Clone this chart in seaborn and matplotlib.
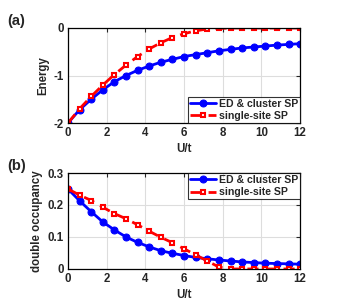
import numpy as np
import pandas as pd
import matplotlib
matplotlib.use("Agg")
import matplotlib.pyplot as plt
import seaborn as sns

# U/t grid
u_vals = [0, 0.6, 1.2, 1.8, 2.4, 3.0, 3.6, 4.2, 4.8, 5.4, 6.0,
          6.6, 7.2, 7.8, 8.4, 9.0, 9.6, 10.2, 10.8, 11.4, 12.0]

# ground-state energy
energy_ed = [-2.0, -1.72, -1.50, -1.30, -1.13, -1.00, -0.89, -0.80, -0.72, -0.66, -0.60,
             -0.56, -0.52, -0.48, -0.45, -0.42, -0.40, -0.38, -0.36, -0.345, -0.33]
energy_ss = [-2.0, -1.70, -1.44, -1.20, -0.98, -0.78, -0.60, -0.44, -0.31, -0.20, -0.12,
             -0.06, -0.02, -0.01, 0.0, 0.0, 0.0, 0.0, 0.0, 0.0, 0.0]

# double occupancy
docc_ed = [0.25, 0.213, 0.179, 0.147, 0.122, 0.100, 0.083, 0.069, 0.057, 0.049, 0.042,
           0.036, 0.032, 0.028, 0.025, 0.022, 0.020, 0.018, 0.017, 0.016, 0.015]
docc_ss = [0.25, 0.231, 0.214, 0.193, 0.173, 0.157, 0.138, 0.118, 0.099, 0.082, 0.063,
           0.044, 0.025, 0.006, 0.0, 0.0, 0.0, 0.0, 0.0, 0.0, 0.0]

labels = ["ED & cluster SP", "single-site SP"]

sns.set_style("white")
plt.rcParams["font.family"] = ["Liberation Sans", "DejaVu Sans"]
plt.rcParams["font.weight"] = "bold"
plt.rcParams["font.size"] = 8.3

fig = plt.figure(figsize=(3.47, 3.06), dpi=100)
ax_a = fig.add_axes([0.196, 0.598, 0.669, 0.3105])
ax_b = fig.add_axes([0.196, 0.121, 0.669, 0.3136])


def draw(ax, ed, ss, ylim, yticks, yticklabels, ylabel, loc):
    df = pd.DataFrame({"U": u_vals * 2, "val": ed + ss,
                       "method": [labels[0]] * len(u_vals) + [labels[1]] * len(u_vals)})
    sns.lineplot(data=df[df.method == labels[0]], x="U", y="val", ax=ax,
                 color="#0000ff", lw=2, marker="o", ms=5, mec="#0000ff",
                 label=labels[0])
    sns.lineplot(data=df[df.method == labels[1]], x="U", y="val", ax=ax,
                 color="#ff0000", lw=2, ls=(0, (4, 2.5)), marker="s", ms=3.3,
                 mec="#ff0000", mfc="white", mew=1.5, label=labels[1])
    ax.set_xlim(0, 12)
    ax.set_ylim(*ylim)
    ax.set_xticks([0, 2, 4, 6, 8, 10, 12])
    ax.set_yticks(yticks)
    ax.set_yticklabels(yticklabels)
    for t in ax.get_xticklabels() + ax.get_yticklabels():
        t.set_fontweight("bold")
    ax.set_xlabel("U/t", fontweight="bold", labelpad=3)
    ax.set_ylabel(ylabel, fontweight="bold", labelpad=3)
    ax.grid(True, color="#dddddd", lw=0.8)
    ax.tick_params(direction="in", length=3, width=0.8, top=True, right=True, pad=3)
    for s in ax.spines.values():
        s.set_color("black")
        s.set_linewidth(0.9)
    leg = ax.legend(loc=loc, frameon=True, fancybox=False, handlelength=2.4,
                    handletextpad=0.3, borderpad=0.2, labelspacing=0.2,
                    borderaxespad=0.0, prop={"weight": "bold", "size": 7.6})
    leg.get_frame().set_edgecolor("black")
    leg.get_frame().set_linewidth(0.8)


draw(ax_a, energy_ed, energy_ss, (-2, 0), [-2, -1, 0], ["-2", "-1", "0"],
     "Energy", "lower right")
draw(ax_b, docc_ed, docc_ss, (0, 0.3), [0, 0.1, 0.2, 0.3], ["0", "0.1", "0.2", "0.3"],
     "double occupancy", "upper right")

fig.text(0.022, 0.918, "(a)", fontsize=10.5, fontweight="bold")
fig.text(0.022, 0.445, "(b)", fontsize=10.5, fontweight="bold")

fig.savefig("out.png", dpi=100)
